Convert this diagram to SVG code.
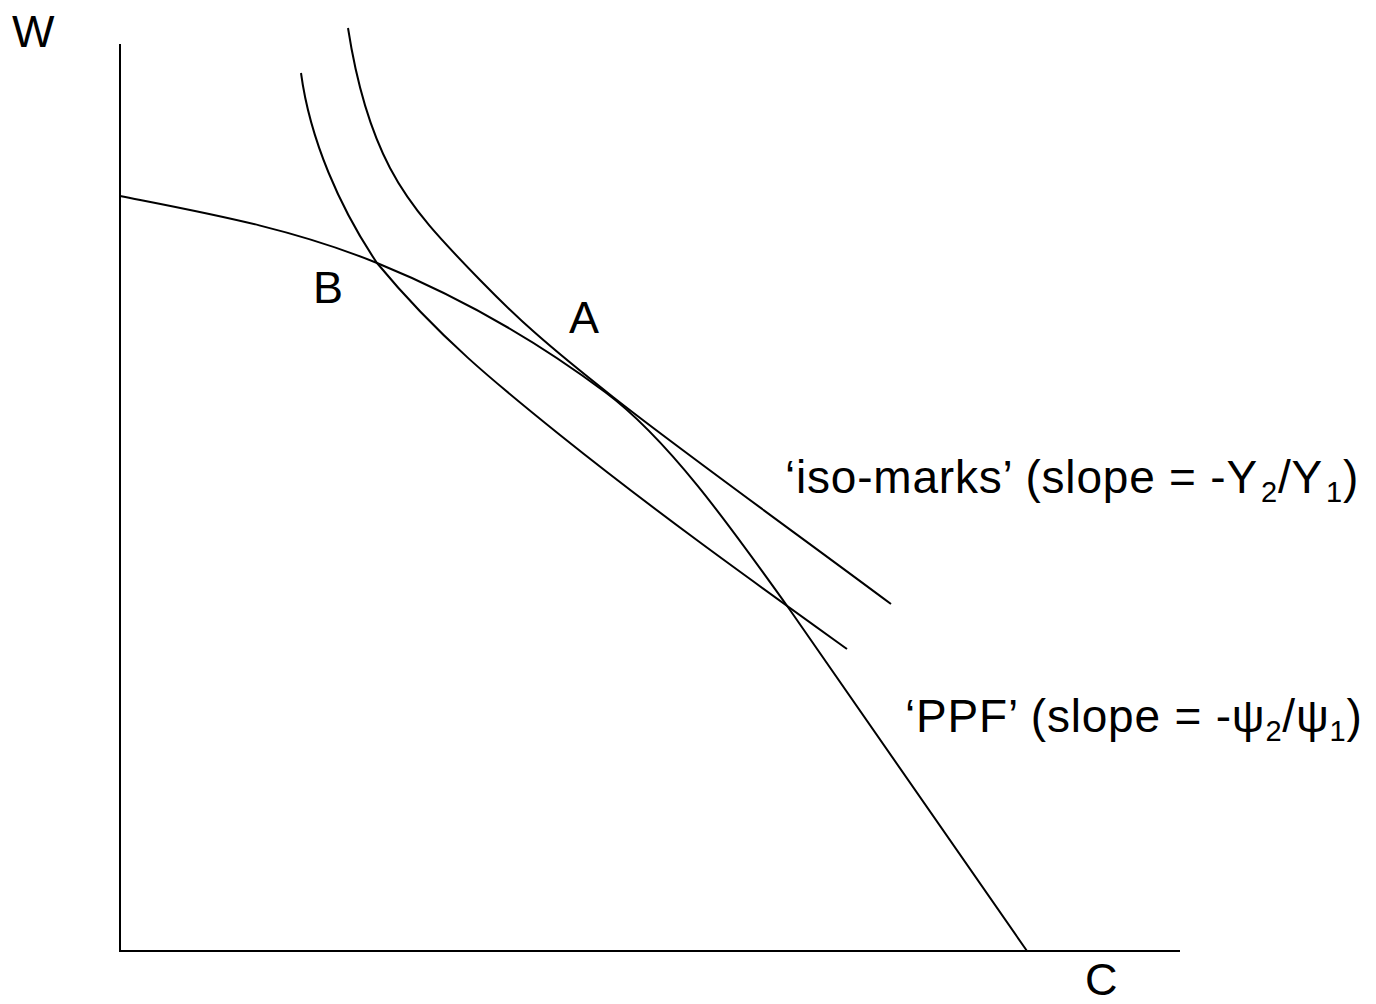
<svg xmlns="http://www.w3.org/2000/svg" width="1376" height="1004" viewBox="0 0 1376 1004">
<style>
.ln{fill:none;stroke:#000;stroke-width:2}
.t{font-family:"Liberation Sans",Arial,sans-serif;font-size:45px;fill:#000}
.lbl{font-size:46px;letter-spacing:0.8px}
.sub{font-size:29px}
</style>
<rect width="1376" height="1004" fill="#fff"/>
<g id="axes">
<path class="ln" d="M120,44 V951 H1180"/>
</g>
<g id="connectors">
<path id="ppf" class="ln" d="M120,196 C206,213 291,228 377,263 C453,294 529,335 605,392 C667,438 728,523 790,610 C869,722 948,836 1027,951"/>
<path id="iso-outer" class="ln" d="M348,28 C354.7,71.3 368,126 390,168 C412,210 442.8,241.8 480,280 C517.2,318.2 544.5,343 613,397 C681.5,451 798.3,535 891,604"/>
<path id="iso-inner" class="ln" d="M301,73 C310,140 340,208 377,263 C438,337 499,386 560,435 C656,512 751,580 847,649"/>
</g>
<g id="labels">
<text class="t" x="12" y="47">W</text>
<text class="t" x="1085" y="995">C</text>
<text class="t" x="313" y="303">B</text>
<text class="t" x="569" y="333">A</text>
<text class="t lbl" x="785" y="493">‘iso-marks’ (slope = -Y<tspan class="sub" dx="3" dy="9">2</tspan><tspan dy="-9">/Y</tspan><tspan class="sub" dx="3" dy="9">1</tspan><tspan dy="-9">)</tspan></text>
<text class="t lbl" x="905" y="732">‘PPF’ (slope = -ψ<tspan class="sub" dy="9">2</tspan><tspan dy="-9">/ψ</tspan><tspan class="sub" dy="9">1</tspan><tspan dy="-9">)</tspan></text>
</g>
</svg>
